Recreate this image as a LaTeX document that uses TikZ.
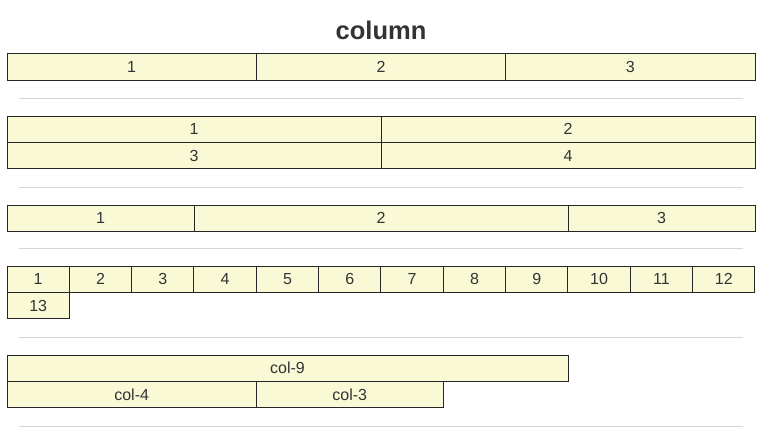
\documentclass[tikz,border=0pt]{standalone}
\usepackage{fontspec}
\setmainfont{Liberation Sans}
\usepackage{tikz}
\definecolor{cellfill}{HTML}{FAF9D6}
\definecolor{rulegray}{HTML}{D6D6D6}
\definecolor{inkgray}{HTML}{333333}
\tikzset{
  cell/.style={draw=black!85,line width=1pt,fill=cellfill,anchor=north west,
    minimum height=26,inner sep=0,outer sep=0,font=\fontsize{16}{18}\selectfont,text=inkgray},
  sep/.style={draw=rulegray,line width=1pt}
}
\begin{document}
\begin{tikzpicture}[x=1pt,y=-1pt]
\useasboundingbox (0,0) rectangle (778,436);
\node[font=\fontsize{25.5}{30}\selectfont\bfseries,text=inkgray] (title) at (381,30){column};
% row 1
\node[cell,minimum width=249.3] (a1) at (7,54){1};
\node[cell,minimum width=249.3] (a2) at (256.3,54){2};
\node[cell,minimum width=249.3] (a3) at (505.7,54){3};
\coordinate (s1a) at (19,98); \coordinate (s1b) at (743,98);
\draw[sep] (s1a) -- (s1b);
% row 2
\node[cell,minimum width=374] (b1) at (7,116){1};
\node[cell,minimum width=374] (b2) at (381,116){2};
\node[cell,minimum width=374] (b3) at (7,142.5){3};
\node[cell,minimum width=374] (b4) at (381,142.5){4};
\coordinate (s2a) at (19,187); \coordinate (s2b) at (743,187);
\draw[sep] (s2a) -- (s2b);
% row 3
\node[cell,minimum width=187] (c1) at (7,205){1};
\node[cell,minimum width=374] (c2) at (194,205){2};
\node[cell,minimum width=187] (c3) at (568,205){3};
\coordinate (s3a) at (19,248); \coordinate (s3b) at (743,248);
\draw[sep] (s3a) -- (s3b);
% row 4
\foreach \i in {1,...,12}
  \node[cell,minimum width=62.33] (d\i) at ({7+62.33*(\i-1)},266){\i};
\node[cell,minimum width=62.33] (d13) at (7,292.5){13};
\coordinate (s4a) at (19,337); \coordinate (s4b) at (743,337);
\draw[sep] (s4a) -- (s4b);
% row 5
\node[cell,minimum width=561] (e1) at (7,355){col-9};
\node[cell,minimum width=249.3] (e2) at (7,381.5){col-4};
\node[cell,minimum width=187] (e3) at (256.3,381.5){col-3};
\coordinate (s5a) at (19,426); \coordinate (s5b) at (743,426);
\draw[sep] (s5a) -- (s5b);
\end{tikzpicture}
\end{document}
